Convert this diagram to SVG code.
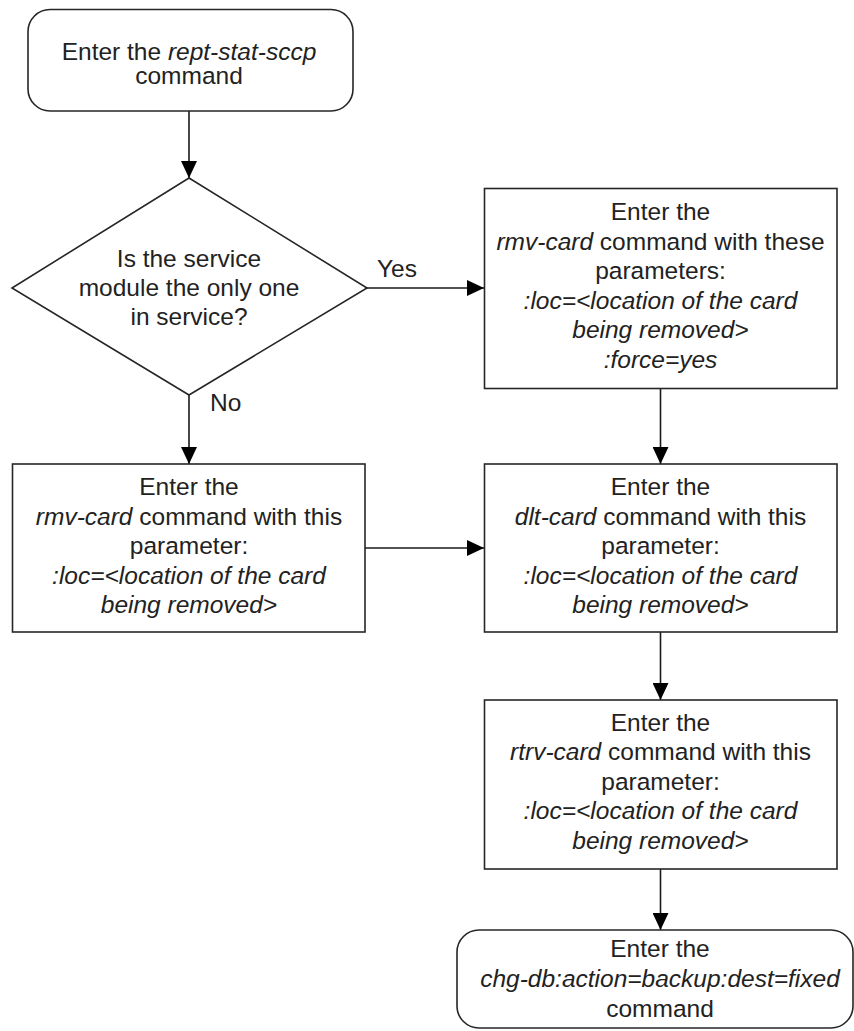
<svg xmlns="http://www.w3.org/2000/svg" width="854" height="1031" viewBox="0 0 854 1031">
<style>
.shape{fill:#fff;stroke:#262626;stroke-width:1.6}
.t{font-family:"Liberation Sans",Arial,sans-serif;font-size:24.5px;fill:#222;text-anchor:middle}
.i{font-style:italic}
.lbl{font-family:"Liberation Sans",Arial,sans-serif;font-size:24.5px;fill:#222}
.conn{fill:none;stroke:#1a1a1a;stroke-width:1.6}
</style>
<defs>
<marker id="arr" markerUnits="userSpaceOnUse" markerWidth="17" markerHeight="16" refX="17" refY="8" orient="auto">
<path d="M0,0 L17,8 L0,16 Z" fill="#000"/>
</marker>
</defs>
<rect width="854" height="1031" fill="#fff"/>
<g id="connectors">
<line class="conn" x1="189" y1="111" x2="189" y2="178" marker-end="url(#arr)"/>
<line class="conn" x1="367" y1="288" x2="484" y2="288" marker-end="url(#arr)"/>
<line class="conn" x1="189" y1="395" x2="189" y2="464" marker-end="url(#arr)"/>
<line class="conn" x1="365" y1="548" x2="484" y2="548" marker-end="url(#arr)"/>
<line class="conn" x1="660.5" y1="388" x2="660.5" y2="464" marker-end="url(#arr)"/>
<line class="conn" x1="660.5" y1="632" x2="660.5" y2="700" marker-end="url(#arr)"/>
<line class="conn" x1="660.5" y1="869" x2="660.5" y2="930" marker-end="url(#arr)"/>
<text class="lbl" x="377" y="277">Yes</text>
<text class="lbl" x="210" y="411">No</text>
</g>
<g id="start">
<rect class="shape" x="28" y="9.5" width="325" height="101.5" rx="22" ry="22"/>
<text class="t" x="189" y="60">Enter the <tspan class="i">rept-stat-sccp</tspan></text>
<text class="t" x="189" y="84">command</text>
</g>
<g id="decision">
<polygon class="shape" points="189,178 367,288 189,395 12,288"/>
<text class="t" x="189" y="266.5">Is the service</text>
<text class="t" x="189" y="295.5">module the only one</text>
<text class="t" x="189" y="324.5">in service?</text>
</g>
<g id="rmv-force">
<rect class="shape" x="484.5" y="188.5" width="352.5" height="200"/>
<text class="t" x="660.5" y="220">Enter the</text>
<text class="t" x="660.5" y="249.5"><tspan class="i">rmv-card</tspan> command with these</text>
<text class="t" x="660.5" y="279">parameters:</text>
<text class="t i" x="660.5" y="308.5">:loc=&lt;location of the card</text>
<text class="t i" x="660.5" y="338">being removed&gt;</text>
<text class="t i" x="660.5" y="367.5">:force=yes</text>
</g>
<g id="rmv-card">
<rect class="shape" x="12.5" y="464" width="352.5" height="168"/>
<text class="t" x="189" y="495">Enter the</text>
<text class="t" x="189" y="524.5"><tspan class="i">rmv-card</tspan> command with this</text>
<text class="t" x="189" y="554">parameter:</text>
<text class="t i" x="189" y="583.5">:loc=&lt;location of the card</text>
<text class="t i" x="189" y="613">being removed&gt;</text>
</g>
<g id="dlt-card">
<rect class="shape" x="484.5" y="464" width="352.5" height="168"/>
<text class="t" x="660.5" y="495">Enter the</text>
<text class="t" x="660.5" y="524.5"><tspan class="i">dlt-card</tspan> command with this</text>
<text class="t" x="660.5" y="554">parameter:</text>
<text class="t i" x="660.5" y="583.5">:loc=&lt;location of the card</text>
<text class="t i" x="660.5" y="613">being removed&gt;</text>
</g>
<g id="rtrv-card">
<rect class="shape" x="484.5" y="700" width="352.5" height="169"/>
<text class="t" x="660.5" y="730.5">Enter the</text>
<text class="t" x="660.5" y="760"><tspan class="i">rtrv-card</tspan> command with this</text>
<text class="t" x="660.5" y="789.5">parameter:</text>
<text class="t i" x="660.5" y="819">:loc=&lt;location of the card</text>
<text class="t i" x="660.5" y="848.5">being removed&gt;</text>
</g>
<g id="chg-db">
<rect class="shape" x="457" y="930" width="396" height="98" rx="22" ry="22"/>
<text class="t" x="660" y="957">Enter the</text>
<text class="t i" x="660" y="987">chg-db:action=backup:dest=fixed</text>
<text class="t" x="660" y="1017">command</text>
</g>
</svg>
